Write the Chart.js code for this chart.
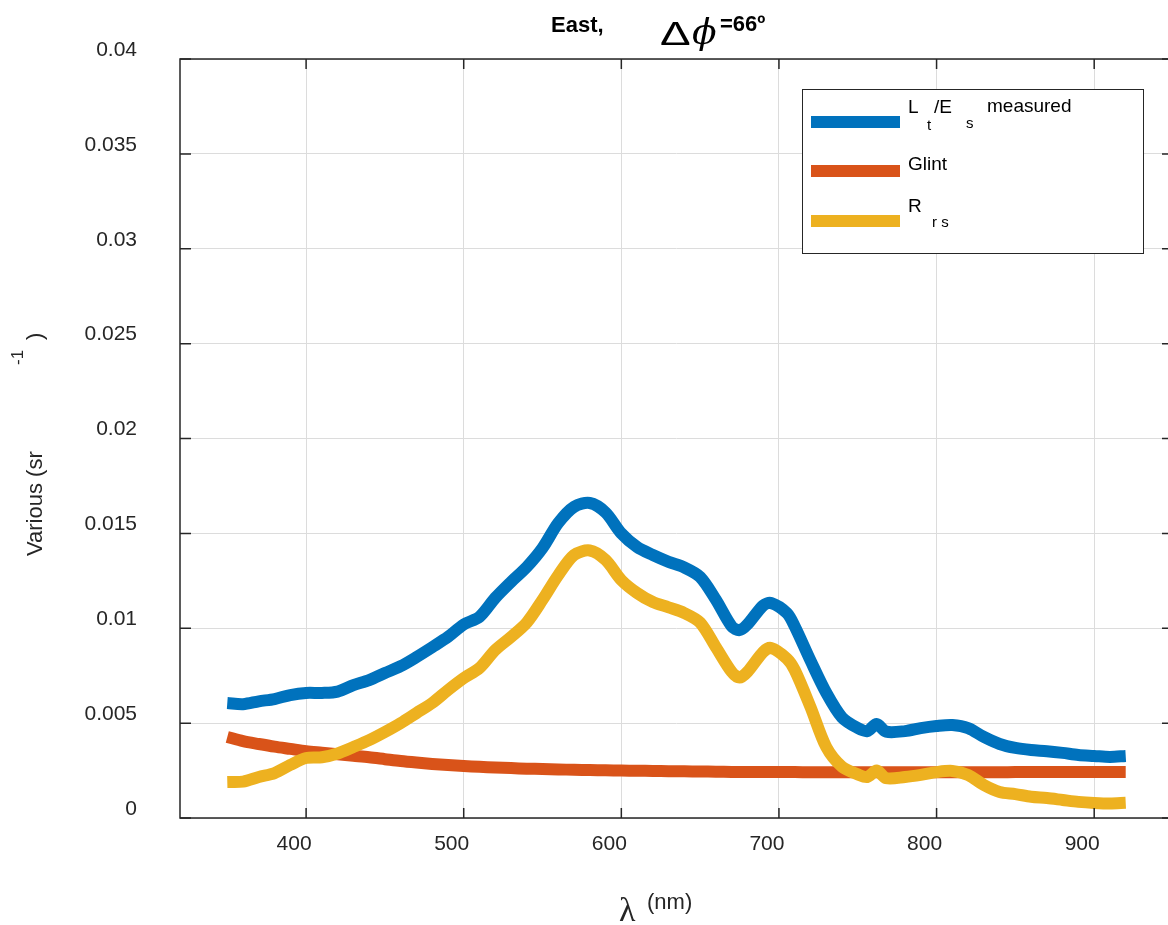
<!DOCTYPE html>
<html>
<head>
<meta charset="utf-8">
<script src="https://cdn.jsdelivr.net/npm/chart.js@4"></script>
<style>
html, body { margin: 0; padding: 0; overflow: hidden; background: #fff; }
#wrap { width: 1180px; height: 925px; }
</style>
</head>
<body>
<div id="wrap"><canvas id="chart" width="1180" height="925"></canvas></div>
<script>
// wavelengths (nm)
var wavelength = [350,360,370,380,390,400,410,420,430,440,450,460,470,480,490,500,510,520,530,540,
  550,560,570,580,590,600,610,620,630,640,650,660,670,675,680,690,695,705,710,720,730,740,750,756,762,768,
  780,790,800,810,820,830,840,850,860,870,880,890,900,910,920];

// Lt/Es measured
var ltEs = [0.00606,0.00600,0.00615,0.00627,0.00648,0.00659,0.00659,0.00666,0.00700,0.00727,
  0.00764,0.00800,0.00848,0.00900,0.00954,0.01020,0.01060,0.01160,0.01244,0.01323,
  0.01423,0.01555,0.01640,0.01660,0.01610,0.01500,0.01428,0.01386,0.01350,0.01320,
  0.01270,0.01150,0.01010,0.00990,0.01020,0.01120,0.01133,0.01080,0.01010,0.00830,
  0.00660,0.00530,0.00474,0.00458,0.00495,0.00455,0.00458,0.00474,0.00485,0.00490,
  0.00474,0.00427,0.00390,0.00369,0.00358,0.00352,0.00343,0.00332,0.00327,0.00322,0.00327];

// Glint
var glint = [0.00427,0.00405,0.00390,0.00376,0.00364,0.00352,0.00344,0.00336,0.00328,0.00320,
  0.00310,0.00300,0.00292,0.00285,0.00279,0.00274,0.00270,0.00266,0.00263,0.00260,
  0.00258,0.00256,0.00254,0.00253,0.00251,0.00250,0.00249,0.00248,0.00247,0.00246,
  0.00245,0.00244,0.00243,0.00243,0.00243,0.00242,0.00242,0.00242,0.00242,0.00241,
  0.00241,0.00241,0.00241,0.00241,0.00241,0.00241,0.00241,0.00241,0.00241,0.00241,
  0.00241,0.00241,0.00241,0.00242,0.00242,0.00242,0.00242,0.00242,0.00242,0.00242,0.00242];

// Rrs
var rrs = [0.00190,0.00192,0.00216,0.00237,0.00280,0.00316,0.00320,0.00340,0.00374,0.00410,
  0.00453,0.00500,0.00553,0.00606,0.00674,0.00737,0.00790,0.00885,0.00954,0.01030,
  0.01150,0.01280,0.01386,0.01410,0.01360,0.01254,0.01186,0.01138,0.01110,0.01080,
  0.01030,0.00900,0.00770,0.00740,0.00770,0.00875,0.00896,0.00840,0.00780,0.00585,
  0.00374,0.00270,0.00230,0.00216,0.00250,0.00210,0.00216,0.00227,0.00242,0.00248,
  0.00227,0.00174,0.00137,0.00126,0.00112,0.00105,0.00095,0.00085,0.00079,0.00076,0.00080];

var xTicks = [400,500,600,700,800,900];
var yTicks = [0,0.005,0.01,0.015,0.02,0.025,0.03,0.035,0.04];

var FONT = '"Liberation Sans", Arial, Helvetica, sans-serif';
var INK = '#262626';
var BLUE = '#0072BD', ORANGE = '#D95319', YELLOW = '#EDB120';

function pts(vals) {
  return wavelength.map(function (w, i) { return { x: w, y: vals[i] }; });
}

var decor = {
  id: 'decor',
  afterDatasetsDraw: function (chart) {
    var ctx = chart.ctx, a = chart.chartArea;
    var xs = chart.scales.x, ys = chart.scales.y;
    ctx.save();

    // axes box and inward ticks
    ctx.strokeStyle = INK;
    ctx.lineWidth = 1.5;
    ctx.strokeRect(a.left, a.top, a.right - a.left, a.bottom - a.top);
    ctx.beginPath();
    xTicks.forEach(function (v) {
      var px = xs.getPixelForValue(v);
      ctx.moveTo(px, a.bottom); ctx.lineTo(px, a.bottom - 10);
      ctx.moveTo(px, a.top); ctx.lineTo(px, a.top + 10);
    });
    yTicks.forEach(function (v) {
      var py = ys.getPixelForValue(v);
      ctx.moveTo(a.left, py); ctx.lineTo(a.left + 11, py);
      ctx.moveTo(a.right, py); ctx.lineTo(a.right - 11, py);
    });
    ctx.stroke();

    // legend
    ctx.fillStyle = '#fff';
    ctx.fillRect(802, 89, 341, 164);
    ctx.lineWidth = 1;
    ctx.strokeRect(802.5, 89.5, 341, 164);
    ctx.lineWidth = 12;
    [[BLUE, 122], [ORANGE, 171], [YELLOW, 221]].forEach(function (it) {
      ctx.strokeStyle = it[0];
      ctx.beginPath(); ctx.moveTo(811, it[1]); ctx.lineTo(900, it[1]); ctx.stroke();
    });
    ctx.fillStyle = '#000';
    ctx.textBaseline = 'alphabetic';
    ctx.textAlign = 'left';
    ctx.font = '19px ' + FONT;
    ctx.fillText('L', 908, 113);
    ctx.fillText('/E', 934, 113);
    ctx.fillText('measured', 987, 112);
    ctx.fillText('Glint', 908, 170);
    ctx.fillText('R', 908, 212);
    ctx.font = '15px ' + FONT;
    ctx.fillText('t', 927, 130);
    ctx.fillText('s', 966, 128);
    ctx.fillText('r s', 932, 227);

    // title
    ctx.font = 'bold 22px ' + FONT;
    ctx.fillText('East,', 551, 32);
    ctx.save();
    ctx.translate(660, 45);
    ctx.scale(1.35, 1);
    ctx.font = '34px "Liberation Sans", "DejaVu Sans", sans-serif';
    ctx.fillText('\u0394', 0, 0);
    ctx.restore();
    ctx.font = 'italic 36px "DejaVu Serif", serif';
    ctx.fillText('\u03D5', 692, 44);
    ctx.font = 'bold 22px ' + FONT;
    ctx.fillText('=66\u00BA', 720, 31);

    // x axis title
    ctx.fillStyle = INK;
    ctx.font = '34px "Liberation Serif", "DejaVu Serif", serif';
    ctx.fillText('\u03BB', 619, 921);
    ctx.font = '22px ' + FONT;
    ctx.fillText('(nm)', 647, 909);

    // y axis title
    ctx.translate(42, 556);
    ctx.rotate(-Math.PI / 2);
    ctx.font = '22px ' + FONT;
    ctx.fillText('Various (sr', 0, 0);
    ctx.font = '17px ' + FONT;
    ctx.fillText('-1', 191, -19);
    ctx.font = '22px ' + FONT;
    ctx.fillText(')', 216, 0);

    ctx.restore();
  }
};

new Chart(document.getElementById('chart').getContext('2d'), {
  type: 'line',
  data: {
    datasets: [
      { label: 'Lt/Es measured', data: pts(ltEs), borderColor: BLUE, order: 2 },
      { label: 'Glint', data: pts(glint), borderColor: ORANGE, order: 1 },
      { label: 'Rrs', data: pts(rrs), borderColor: YELLOW, order: 0 }
    ]
  },
  options: {
    responsive: false,
    animation: false,
    layout: { padding: { top: 59, right: 7, left: 0, bottom: 0 } },
    elements: {
      point: { radius: 0 },
      line: { borderWidth: 12, tension: 0.3, fill: false, borderJoinStyle: 'round' }
    },
    plugins: {
      legend: { display: false },
      tooltip: { enabled: false }
    },
    scales: {
      x: {
        type: 'linear',
        min: 320,
        max: 950,
        afterBuildTicks: function (s) { s.ticks = xTicks.map(function (v) { return { value: v }; }); },
        afterFit: function (s) { s.height = 107; },
        grid: { color: '#dcdcdc', lineWidth: 1, drawTicks: false },
        border: { display: false },
        ticks: {
          padding: 14,
          labelOffset: -12,
          maxRotation: 0,
          autoSkip: false,
          color: INK,
          font: { family: FONT, size: 21 },
          callback: function (v) { return String(v); }
        }
      },
      y: {
        min: 0,
        max: 0.04,
        afterBuildTicks: function (s) { s.ticks = yTicks.map(function (v) { return { value: v }; }); },
        afterFit: function (s) { s.width = 180; },
        grid: { color: '#dcdcdc', lineWidth: 1, drawTicks: false },
        border: { display: false },
        ticks: {
          padding: 43,
          labelOffset: -9,
          autoSkip: false,
          color: INK,
          font: { family: FONT, size: 21 },
          callback: function (v) { return String(+v.toFixed(3)); }
        }
      }
    }
  },
  plugins: [decor]
});
</script>
</body>
</html>
